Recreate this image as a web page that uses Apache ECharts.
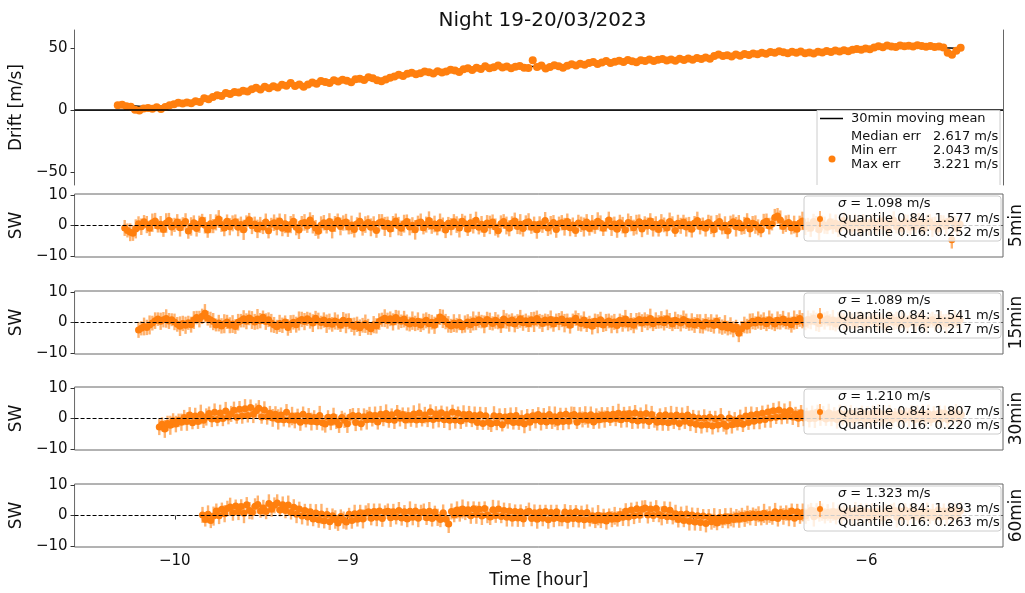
<!DOCTYPE html>
<html><head><meta charset="utf-8">
<script src="https://cdn.jsdelivr.net/npm/echarts@6/dist/echarts.min.js"></script>
<style>html,body{margin:0;padding:0;background:#fff}#c{width:1025px;height:593px}</style>
</head><body><div id="c"></div>
<script>
// ---------- DATA ----------
const TITLE = 'Night 19-20/03/2023';
const X_TICKS = [-10, -9, -8, -7, -6];
const DRIFT_TICKS = [-50, 0, 50];
const SW_TICKS = [-10, 0, 10];
const PANEL_NAMES = ['5min', '15min', '30min', '60min'];

// Drift panel: sampling start and step (hours)
const DRIFT_T0 = -10.33, DRIFT_DT = 0.025;
const DRIFT = [3.8,4.2,3.0,2.6,0.2,-0.5,1.2,1.5,1.0,2.2,0.8,2.5,3.8,4.6,5.9,5.2,6.1,5.5,7.0,6.4,
9.5,8.6,10.4,11.8,11.2,13.6,12.8,14.4,14.1,15.6,14.9,16.8,17.9,16.5,18.8,17.6,19.2,18.1,20.4,19.5,
21.8,19.3,20.6,18.7,20.5,22.1,21.2,23.4,22.6,21.8,23.9,22.9,24.3,23.5,22.4,24.8,25.2,24.1,26.3,25.6,
24.0,23.2,24.6,25.9,27.1,28.4,27.5,29.2,30.1,28.8,29.6,31.0,30.5,29.4,31.3,30.2,31.1,32.4,31.8,30.7,
32.9,33.6,32.2,34.1,33.0,35.2,33.7,34.5,35.8,34.3,35.0,33.6,34.8,35.5,34.1,33.8,40.2,34.6,35.9,33.5,
34.7,36.1,35.2,34.0,35.6,36.8,35.9,37.2,36.5,37.9,38.6,37.1,38.3,39.5,37.8,38.9,39.8,38.6,40.3,39.2,
38.5,40.1,39.6,40.8,39.4,40.5,41.2,39.9,40.7,39.8,41.3,40.4,41.5,40.6,42.0,41.1,42.3,41.4,43.6,44.8,
43.5,44.2,43.1,44.7,43.8,45.1,44.3,45.6,44.9,46.2,45.4,46.8,46.1,47.3,46.5,45.8,46.9,46.2,47.1,45.7,
46.4,45.6,47.0,46.3,47.5,46.8,47.9,47.2,48.1,47.4,48.6,49.2,48.5,49.6,48.9,50.3,51.4,50.6,51.9,51.1,
50.8,52.0,51.3,51.8,51.2,52.3,51.5,50.9,51.6,50.7,51.2,50.4,46.2,44.5,47.8,50.1];

// 30min moving mean of the drift
const MEAN_T0 = -10.25, MEAN_DT = 0.1;
const MEAN = [3.5,2.5,3.5,5.5,8,11,14,16.5,18.5,19.8,20.5,21.8,23,24,24.8,26,28,29.8,31,32,
33.2,34,34.6,35,35.2,35.6,36.5,37.6,38.6,39.4,40,40.4,40.9,41.6,42.8,44,45,45.9,46.4,46.5,
46.7,47.6,48.6,49.8,50.8,51.4,51.3,50.2,49.6];

// Legend numbers
const DRIFT_STATS = [['Median err', '2.617 m/s'], ['Min err', '2.043 m/s'], ['Max err', '3.221 m/s']];
const SIGMA = ['1.098', '1.089', '1.210', '1.323'];
const Q84 = ['1.577', '1.541', '1.807', '1.893'];
const Q16 = ['0.252', '0.217', '0.220', '0.263'];

// SW panels: sampling start (hours) and common step
const SW_T0 = [-10.29, -10.21, -10.09, -9.84];
const SW_DT = 0.016;

const SW_5 = [-0.8,-1.6,-2.2,-2.5,-1.1,0.6,-0.4,1.2,0.3,-0.9,
0.9,1.5,-0.2,0.4,-1.3,0.8,1.6,-0.5,0.2,1.1,
-0.7,0.5,1.3,-1.8,-0.3,0.9,-1.0,0.4,1.7,0.1,
-1.5,0.6,-0.2,1.0,2.1,0.3,-0.8,1.4,-0.4,0.7,
1.2,-0.6,0.3,-1.4,0.8,1.9,-0.1,0.5,-1.1,0.2,
-0.5,1.1,-1.7,0.4,0.9,-0.3,1.5,-0.9,0.6,-1.2,
0.3,1.4,-0.6,-1.5,0.7,1.0,-0.2,1.8,0.4,-0.8,
-1.9,0.2,0.9,-0.4,1.3,-1.0,0.5,1.6,-0.3,0.8,
1.1,-0.5,0.2,-1.3,0.6,1.4,-0.8,0.3,1.0,-0.6,
0.4,-1.6,0.9,1.2,-0.3,0.7,-1.1,0.5,1.5,-0.2,
-0.9,0.6,1.3,-0.5,0.1,-1.4,0.8,1.1,-0.7,0.3,
1.6,-0.2,0.5,-0.9,1.0,0.2,-1.5,0.7,-0.4,1.2,
0.3,-0.8,1.4,0.6,-1.2,0.9,-0.1,1.7,-0.6,0.4,
-1.3,0.8,0.2,1.1,-0.5,-1.7,0.6,1.3,0.0,-0.9,
0.7,1.5,-0.3,0.4,-1.0,0.9,1.2,-0.6,0.3,-1.4,
0.5,-0.2,1.6,-0.8,0.1,1.0,-1.3,0.6,0.9,-0.4,
1.3,-0.7,0.2,-1.6,0.8,0.4,-0.5,1.1,-1.0,0.6,
-0.3,1.4,0.7,-0.9,0.2,1.8,-0.4,0.5,-1.2,0.9,
0.1,-1.5,1.0,0.6,-0.7,0.3,1.2,-1.1,0.8,-0.2,
1.5,-0.6,0.4,-1.3,0.9,0.2,-0.8,1.3,0.5,-1.6,
0.7,-0.1,1.1,-0.5,0.3,-1.2,0.8,1.6,-0.3,0.4,
-0.9,1.0,0.2,-1.4,0.6,1.3,-0.6,0.1,-1.8,0.5,
1.2,-0.4,0.8,-0.8,0.0,1.5,-1.1,0.7,0.3,-0.6,
-1.5,0.9,1.4,-0.2,0.5,2.6,3.1,1.8,-0.3,0.6,
1.0,-0.7,0.3,-1.2,0.8,1.5,-0.4,0.2,-0.9,1.3,
0.5,-1.4,0.9,0.1,-0.6,1.2,-0.2,0.7,-1.1,0.4,
1.6,-0.3,0.6,-0.9,1.0,0.3,-1.5,0.8,0.2,-0.5,
1.1,0.4,-0.8,1.4,-0.1,0.6,-1.2,0.9,1.7,-0.4,
0.2,-1.0,1.3,0.5,-0.6,1.0,-0.3,1.5,0.1,-0.9,
0.8,1.2,-0.5,0.3,-1.1,0.6,0.9,-0.2,1.4,-4.6,
0.5,-0.8,0.4];

const SW_15 = [-2.4,-1.9,-1.3,-1.6,-0.8,-0.2,0.6,1.1,0.4,0.9,
1.3,0.5,0.9,0.2,-0.6,-1.2,-0.3,-0.9,-0.1,-0.7,
0.8,1.6,1.1,2.0,3.0,1.4,0.9,0.3,-0.8,-0.2,
-1.1,-0.4,0.2,-0.9,-0.5,-1.3,0.1,0.6,1.2,0.4,
1.5,0.8,0.2,1.1,0.6,1.7,0.3,0.9,-0.2,-0.8,
-1.4,-0.3,-0.9,0.2,-1.6,-0.5,0.1,-0.7,0.5,1.0,
0.3,1.2,0.6,-0.2,1.4,0.5,0.0,0.8,-0.4,0.3,
-0.6,0.5,0.1,-0.9,0.7,-0.3,0.4,-0.8,-1.3,-0.6,
-1.7,-0.9,-0.4,-1.4,-2.0,-0.7,-1.1,0.3,0.9,1.4,
0.6,1.2,0.2,1.6,0.8,0.4,1.1,0.0,-0.5,0.6,
-0.3,0.4,-0.8,0.2,0.7,-0.4,0.1,-0.9,0.5,1.8,
1.2,0.3,-0.6,-1.1,-0.2,-0.9,0.1,-1.4,-0.5,0.2,
-0.7,0.5,-0.1,0.9,0.3,-0.6,1.0,0.4,-0.3,0.7,
0.2,-0.8,1.1,0.5,-0.2,0.8,-0.5,0.3,1.2,-0.1,
0.6,-0.4,0.9,0.2,1.3,0.4,-0.3,0.8,0.1,1.0,
-0.5,0.7,0.3,1.1,-0.2,0.5,-0.9,0.6,1.4,0.2,
-0.3,0.8,-0.7,0.1,-1.2,0.4,-0.4,0.9,-0.8,0.0,
0.5,-0.6,0.2,-1.0,0.7,-0.3,1.1,-0.5,0.3,-0.9,
0.4,1.0,-0.2,0.8,0.1,1.3,-0.4,0.6,0.2,0.9,
-0.1,1.2,0.5,-0.5,0.7,0.3,-0.2,1.0,0.4,-0.6,
0.2,-0.8,0.3,-0.4,-1.1,0.1,-0.6,-0.2,-1.0,0.4,
-0.9,-1.5,-0.6,-1.8,-1.1,-2.2,-1.4,-3.5,-2.0,-0.8,
-1.2,-0.3,0.4,-0.2,0.8,0.1,0.6,-0.4,0.9,0.3,
-0.5,0.7,0.2,1.1,-0.1,0.5,-0.7,0.8,0.3,1.3,
0.6,-0.3,1.0,0.4,1.5,0.2,-0.4,0.9,0.5,1.2,
0.1,0.8,-0.5,0.6,1.1,0.3,-0.2,0.9,0.4,-0.6,
0.7,1.3,0.2,-0.4,0.8,0.5,1.0,-0.1,0.6,0.3,
-0.8,0.4,1.2,0.1,0.7,-0.3,0.9,0.5,-0.6,1.1,
0.3,-0.2,0.8,1.4,0.2,-0.5,0.6,0.9,-0.1,0.4,
1.0,0.2,-0.4,0.7,0.3,1.1,0.5,0.8];

const SW_30 = [-2.8,-1.9,-3.4,-1.6,-2.2,-0.7,-1.8,-0.6,-1.2,0.3,
-1.0,1.1,-1.4,0.8,-1.0,1.3,-0.6,0.5,1.6,-0.2,
2.0,-0.3,1.8,0.0,2.4,0.5,1.5,2.7,0.4,3.0,
0.8,3.2,1.0,3.6,1.4,2.5,3.3,0.5,2.8,0.6,
1.7,0.2,1.4,-0.3,1.1,-0.4,2.0,-0.5,0.8,-0.6,
0.9,-1.2,1.4,-0.8,0.7,-1.0,0.3,-1.1,1.0,-1.4,
-1.8,0.4,-1.2,0.6,-1.0,-2.0,0.3,-0.6,-1.7,0.5,
1.0,-1.3,0.9,-1.7,0.6,-0.4,1.2,-0.3,1.0,-1.1,
1.4,-0.1,1.6,-0.4,1.2,-0.6,1.9,0.1,1.3,-0.5,
1.0,-0.3,1.5,-0.5,1.8,-0.4,1.1,-0.2,2.2,-0.3,
1.5,0.0,1.9,-0.4,1.3,-0.6,2.1,-0.5,1.7,-0.8,
1.3,-0.2,1.4,-0.5,1.0,-1.3,1.2,-1.6,0.9,-1.2,
-1.7,0.9,-1.4,0.7,-2.0,0.5,-0.8,0.8,-1.3,1.0,
-1.3,0.1,-1.8,0.6,-1.2,0.9,-0.5,1.3,-1.0,0.8,
-1.1,1.3,-0.9,0.6,-1.2,1.1,-1.0,1.4,-0.9,1.0,
1.3,-1.2,0.9,-0.3,1.0,-0.6,1.2,-1.1,0.8,-0.4,
1.1,-0.2,1.3,-0.3,1.4,0.0,1.7,-0.4,1.5,-0.1,
1.6,-0.5,1.8,-0.8,1.4,-0.6,1.6,-1.0,1.3,-0.4,
-1.2,1.0,-1.1,1.2,-1.4,0.9,-1.0,1.1,-1.6,0.8,
-0.9,1.1,-1.5,0.5,-1.9,0.2,-2.2,0.1,-2.0,0.4,
-2.4,-0.1,-2.1,0.3,-1.8,-2.5,0.2,-2.0,-0.5,-1.7,
0.2,-1.9,0.8,-1.3,1.1,-0.9,1.4,-0.6,1.7,-0.3,
2.1,0.2,2.5,0.4,2.8,0.6,2.2,0.7,2.6,0.5,
1.5,0.1,1.9,0.2,1.4,-0.1,1.6,0.0,2.1,0.3,
1.6,-0.2,1.9,0.1,1.3,-0.3,1.8,0.0,1.4,-0.2,
1.8,-0.4,1.2,0.2,2.0,-0.2,1.5,-0.3,1.7,-0.1,
2.0,-0.1,1.4,0.2,1.6,-0.3,1.2,0.1,1.7,-0.2,
1.1,0.3,2.0,-0.4,1.5,-0.2,1.8,0.1,1.6,-0.3,
1.4,-0.2,1.9,0.0,1.7,-0.4,1.5,0.3,1.8,0.2,
1.2];

const SW_60 = [0.2,-1.3,0.4,-1.6,-0.2,1.5,-0.1,2.0,0.6,2.3,
2.8,0.9,3.1,1.2,2.9,0.7,3.5,1.6,1.0,3.0,
3.6,1.5,2.4,1.3,3.9,2.0,3.3,4.1,1.8,3.5,
1.6,3.4,1.0,2.7,0.4,2.1,-0.2,1.6,-0.5,1.2,
-1.1,0.8,-1.4,0.5,-1.7,0.3,-2.0,-0.1,-1.3,-2.4,
-0.3,-1.5,-2.1,0.4,-1.6,0.6,-1.2,0.9,-1.1,0.8,
1.2,-0.9,1.3,-0.6,1.5,-1.0,1.1,1.4,-0.7,1.2,
-0.5,1.6,-0.8,1.2,-1.1,1.4,-0.6,1.5,-0.9,1.0,
1.2,-0.7,1.4,-1.0,1.1,-0.6,-1.3,0.9,-1.2,-2.8,
1.3,0.2,1.8,0.5,2.1,0.7,1.9,-0.1,2.2,0.3,
2.0,-0.2,2.3,0.2,-0.5,1.9,0.0,2.1,-0.3,1.6,
-0.6,1.5,-0.9,1.3,-0.8,1.2,-1.1,1.0,1.4,-1.0,
0.9,-1.2,1.1,-0.9,1.3,-1.4,1.0,-1.0,1.2,-0.8,
-1.1,1.1,-1.3,0.9,-1.0,1.2,-1.2,0.8,-1.4,1.0,
-1.3,-0.1,-1.6,0.1,-1.5,-0.2,-1.8,0.2,-1.2,-0.1,
-1.1,0.3,-0.6,1.4,-0.5,1.8,-0.1,2.2,0.1,2.0,
2.4,0.2,2.1,0.0,2.3,0.3,-0.1,2.0,-0.4,1.7,
-0.5,0.6,-1.3,0.4,-1.6,0.5,-1.9,0.2,-2.1,-0.1,
-2.3,-0.2,-2.6,-0.4,-2.0,-0.8,-2.4,-0.6,-1.9,-0.4,
-1.7,-0.5,-1.3,-0.2,-1.2,0.1,-1.0,0.3,-0.7,0.5,
-0.6,0.4,-0.8,0.7,-0.5,0.3,-0.7,1.2,-1.0,1.0,
-0.3,0.8,-0.5,1.5,-0.9,1.2,-0.4,1.0,-0.2,0.9,
1.7,-0.4,1.4,0.2,1.1,-0.1,1.0,0.0,1.3,-0.3,
1.2,-0.1,0.9,0.1,1.4,-0.5,1.8,-0.3,1.6,0.2,
1.4,-0.3,1.1,-0.1,1.2,0.1,-0.8,1.4,0.4,1.3,
1.6,-0.6,1.5,-0.4,1.8,-0.5,1.4,-0.1,0.9,-0.3,
1.3,0.2,1.2,-0.2,1.0,-0.4,1.9,-0.5,1.5,-0.3,
1.7,-0.4,1.6,-0.2,1.5];

// Per-sample error (m/s), shared by the SW panels
const SW_ERR = [2.6,2.3,2.9,2.5,3.1,2.4,2.7,2.2,2.8,2.5,
3.0,2.6,2.1,2.7,2.4,3.2,2.5,2.8,2.3,2.6,
2.9,2.2,2.7,2.5,3.0,2.4,2.6,2.8,2.1,2.7,
2.5,3.1,2.3,2.6,2.9,2.4,2.7,2.2,2.8,2.6,
2.4,2.9,2.6,3.3,2.5,2.2,2.7,2.4,3.0,2.6,
2.3,2.8,2.5,2.1,2.7,2.9,2.4,2.6,3.1,2.5,
2.8,2.3,2.6,2.9,2.4,2.7,2.2,2.5,3.0,2.6,
2.4,2.8,2.5,2.2,2.7,3.2,2.6,2.3,2.9,2.5,
2.7,2.4,3.0,2.6,2.1,2.8,2.5,2.7,2.3,2.9,
2.6,2.4,2.8,2.5,3.1,2.2,2.7,2.6,2.4,3.0,
2.5,2.9,2.3,2.7,2.6,3.2,2.4,2.8,2.2,2.6,
3.0,2.5,2.7,2.3,2.9,2.4,2.6,2.1,2.8,2.5,
2.7,3.1,2.4,2.6,2.2,2.9,2.5,2.8,2.3,2.7,
2.4,2.6,3.0,2.5,2.8,2.2,2.7,2.4,2.9,2.6,
2.3,2.7,2.5,3.3,2.6,2.4,2.8,2.1,2.6,2.9,
2.5,2.2,2.8,2.6,3.0,2.4,2.7,2.3,2.5,2.9,
2.6,2.8,2.4,2.1,2.7,2.5,3.1,2.6,2.3,2.8,
2.4,2.9,2.6,2.5,2.2,2.7,3.0,2.4,2.8,2.6,
2.7,2.3,2.9,2.5,2.6,3.2,2.4,2.7,2.2,2.8,
2.5,3.0,2.6,2.3,2.8,2.4,2.7,2.9,2.5,2.1,
2.8,2.6,2.4,3.1,2.5,2.7,2.3,2.9,2.6,2.2,
2.7,2.5,3.0,2.4,2.8,2.6,2.3,2.9,2.5,2.7,
2.4,3.2,2.6,2.2,2.8,2.5,2.7,2.4,3.0,2.6,
2.3,2.9,2.5,2.7,2.1,2.8,2.6,3.1,2.4,2.7,
2.5,2.2,2.9,2.6,2.4,3.0,2.7,2.3,2.8,2.5,
2.6,3.3,2.4,2.8,2.2,2.7,2.5,2.9,2.6,2.3,
2.7,2.4,3.0,2.5,2.8,2.6,2.2,2.9,2.4,2.7,
2.5,3.1,2.3,2.6,2.8,2.4,2.7,2.5,2.9,2.2,
2.6,2.8,2.4,3.0,2.5,2.7,2.3,2.6,2.9,2.4,
2.7,2.5,3.2,2.6,2.3,2.8,2.4,2.7,2.5,2.9,
2.6,2.4,2.8];

const SW_VALUES = [SW_5, SW_15, SW_30, SW_60];

// ---------- LAYOUT ----------
const X_MIN = -10.58, X_MAX = -5.21;
const LEFT = 72, RIGHT = 22, PLOT_R = 1025 - RIGHT;
const TOP0 = 30, H0 = 155;
const PANEL_TOP = [194, 291, 387, 484], PANEL_H = 63;
const Y0_MIN = -60.5, Y0_MAX = 64.5, SW_LIM = 10.25;
const ORANGE = '#ff7f0e';
const FONT = 'DejaVu Sans';
const minus = v => String(v).replace('-', '\u2212');

const t = (t0, dt, i) => +(t0 + dt * i).toFixed(4);
const driftData = DRIFT.map((v, i) => [t(DRIFT_T0, DRIFT_DT, i), v]);
const meanData = MEAN.map((v, i) => [t(MEAN_T0, MEAN_DT, i), v]);

const grids = [{left: LEFT, right: RIGHT, top: TOP0, height: H0, show: false}];
PANEL_TOP.forEach(T => grids.push({left: LEFT, right: RIGHT, top: T, height: PANEL_H, show: true,
  borderColor: '#666', borderWidth: 1, backgroundColor: 'transparent'}));

const xAxes = [], yAxes = [], series = [], graphics = [];
for (let g = 0; g < 5; g++) {
  const last = g === 4;
  xAxes.push({type: 'value', gridIndex: g, min: X_MIN, max: X_MAX,
    position: g === 0 ? 'top' : 'bottom',
    axisLine: {show: g === 0, lineStyle: {color: '#666', width: 1}},
    axisTick: {show: last, length: 4, lineStyle: {color: '#333'}, customValues: X_TICKS},
    axisLabel: {show: last, customValues: X_TICKS, formatter: minus, fontSize: 15, color: '#111', margin: 7, fontFamily: FONT},
    splitLine: {show: false},
    name: last ? 'Time [hour]' : '', nameLocation: 'middle', nameGap: 25,
    nameTextStyle: {fontSize: 17, color: '#111', fontFamily: FONT}});
}
yAxes.push({type: 'value', gridIndex: 0, min: Y0_MIN, max: Y0_MAX, position: 'left',
  axisLine: {show: true, lineStyle: {color: '#666', width: 1}},
  axisTick: {show: true, length: 4, lineStyle: {color: '#333'}, customValues: DRIFT_TICKS},
  axisLabel: {customValues: DRIFT_TICKS, formatter: minus, fontSize: 15, color: '#111', margin: 7, fontFamily: FONT},
  splitLine: {show: false}, name: 'Drift [m/s]', nameLocation: 'middle', nameGap: 45,
  nameTextStyle: {fontSize: 17, color: '#111', fontFamily: FONT}});
yAxes.push({type: 'value', gridIndex: 0, min: Y0_MIN, max: Y0_MAX, position: 'right',
  axisLine: {show: true, lineStyle: {color: '#666', width: 1}},
  axisTick: {show: false}, axisLabel: {show: false}, splitLine: {show: false}});
for (let k = 0; k < 4; k++) {
  const g = k + 1;
  yAxes.push({type: 'value', gridIndex: g, min: -SW_LIM, max: SW_LIM, position: 'left',
    axisLine: {show: false},
    axisTick: {show: true, length: 4, lineStyle: {color: '#333'}, customValues: SW_TICKS},
    axisLabel: {customValues: SW_TICKS, formatter: minus, fontSize: 15, color: '#111', margin: 7, fontFamily: FONT},
    splitLine: {show: false}, name: 'SW', nameLocation: 'middle', nameGap: 45,
    nameTextStyle: {fontSize: 17, color: '#111', fontFamily: FONT}});
}

// top panel series
series.push({type: 'line', xAxisIndex: 0, yAxisIndex: 0, data: meanData, showSymbol: false, z: 1,
  lineStyle: {color: '#000', width: 1.5}, silent: true,
  markLine: {silent: true, symbol: 'none', label: {show: false},
    lineStyle: {color: '#000', width: 1.5, type: 'solid'}, data: [{yAxis: 0}]}});
series.push({type: 'scatter', xAxisIndex: 0, yAxisIndex: 0, data: driftData, symbolSize: 8, z: 3,
  itemStyle: {color: ORANGE, opacity: 1}, silent: true});

// SW panels
for (let k = 0; k < 4; k++) {
  const g = k + 1, yi = 2 + k;
  const d = SW_VALUES[k].map((v, i) => [t(SW_T0[k], SW_DT, i), v, SW_ERR[i]]);
  series.push({type: 'line', xAxisIndex: g, yAxisIndex: yi, data: [], z: 1, silent: true,
    markLine: {silent: true, symbol: 'none', label: {show: false},
      lineStyle: {color: '#000', width: 1, type: [4, 2]}, data: [{yAxis: 0}]}});
  series.push({type: 'custom', xAxisIndex: g, yAxisIndex: yi, data: d, z: 2, silent: true,
    renderItem: (params, api) => {
      const x = api.value(0), y = api.value(1), e = api.value(2);
      const p1 = api.coord([x, y + e]), p2 = api.coord([x, y - e]);
      return {type: 'line', shape: {x1: p1[0], y1: p1[1], x2: p2[0], y2: p2[1]},
        style: {stroke: 'rgba(255,127,14,0.6)', lineWidth: 2.4}};
    }});
  series.push({type: 'scatter', xAxisIndex: g, yAxisIndex: yi, data: d.map(p => [p[0], p[1]]),
    symbolSize: 7, z: 3, itemStyle: {color: ORANGE, opacity: 1}, silent: true});

  const T = PANEL_TOP[k];
  // right-hand panel label, rotated to read bottom-to-top
  graphics.push({type: 'text', z: 51, x: 1017, y: T + PANEL_H / 2, rotation: Math.PI / 2,
    style: {text: PANEL_NAMES[k], fill: '#111', font: '17px "DejaVu Sans"', align: 'center', verticalAlign: 'middle'}});
  // legend box (semi-transparent, like matplotlib framealpha 0.8)
  const bx = 804, bw = PLOT_R - 2 - bx;
  graphics.push({type: 'rect', z: 50, shape: {x: bx, y: T + 2, width: bw, height: 45, r: 3},
    style: {fill: 'rgba(255,255,255,0.8)', stroke: '#ccc', lineWidth: 1}});
  graphics.push({type: 'line', z: 51, shape: {x1: 820, y1: T + 17, x2: 820, y2: T + 33},
    style: {stroke: 'rgba(255,127,14,0.7)', lineWidth: 1.5}});
  graphics.push({type: 'circle', z: 51, shape: {cx: 820, cy: T + 25, r: 3}, style: {fill: ORANGE}});
  const lines = ['{i|\u03c3} = ' + SIGMA[k] + ' m/s', 'Quantile 0.84: ' + Q84[k] + ' m/s', 'Quantile 0.16: ' + Q16[k] + ' m/s'];
  lines.forEach((s, j) => graphics.push({type: 'text', z: 51, x: 838, y: T + 10 + j * 14.5,
    style: {text: s, fill: '#111', font: '13px "DejaVu Sans"', verticalAlign: 'middle', align: 'left',
      rich: {i: {fontStyle: 'italic', fontSize: 13, fontFamily: FONT, fill: '#111'}}}}));
}

// top legend
graphics.push({type: 'polyline', z: 50, shape: {points: [[817, 185], [817, 110.5], [1000, 110.5], [1000, 185]]},
  style: {stroke: '#ccc', fill: null, lineWidth: 1}});
graphics.push({type: 'line', z: 51, shape: {x1: 820, y1: 118.5, x2: 843, y2: 118.5}, style: {stroke: '#000', lineWidth: 1.5}});
graphics.push({type: 'text', z: 51, x: 851, y: 119, style: {text: '30min moving mean', fill: '#111',
  font: '13px "DejaVu Sans"', verticalAlign: 'middle'}});
graphics.push({type: 'circle', z: 51, shape: {cx: 832, cy: 159, r: 3.5}, style: {fill: ORANGE}});
DRIFT_STATS.forEach((r, j) => {
  graphics.push({type: 'text', z: 51, x: 851, y: 137 + j * 14, style: {text: r[0], fill: '#111',
    font: '13px "DejaVu Sans"', verticalAlign: 'middle'}});
  graphics.push({type: 'text', z: 51, x: 933, y: 137 + j * 14, style: {text: r[1], fill: '#111',
    font: '13px "DejaVu Sans"', verticalAlign: 'middle'}});
});

const chart = echarts.init(document.getElementById('c'), null, {renderer: 'canvas'});
chart.setOption({
  animation: false,
  backgroundColor: '#fff',
  textStyle: {fontFamily: FONT},
  title: {text: TITLE, left: (LEFT + PLOT_R) / 2, top: 6, textAlign: 'center',
    textStyle: {fontSize: 20, fontWeight: 'normal', color: '#111', fontFamily: FONT}},
  grid: grids, xAxis: xAxes, yAxis: yAxes, series: series,
  graphic: {elements: graphics}
});
</script>
</body></html>
